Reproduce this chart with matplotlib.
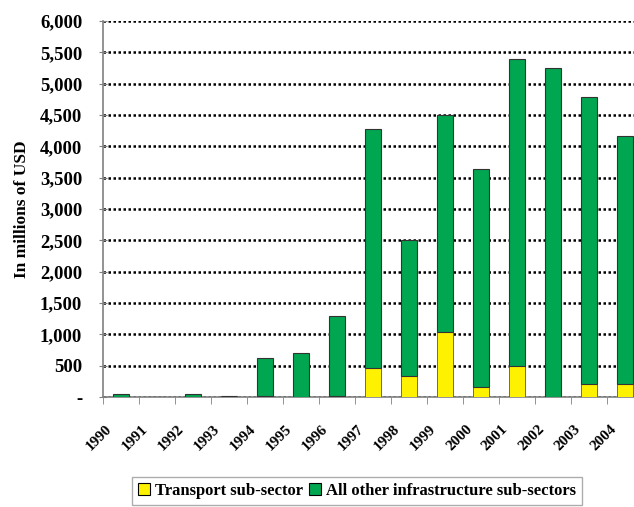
import numpy as np
import matplotlib
matplotlib.use("Agg")
import matplotlib.pyplot as plt
import matplotlib.transforms as mtransforms
from matplotlib.ticker import FuncFormatter, MultipleLocator
from matplotlib.patches import Patch

# Data (millions of USD)
YEARS = ["1990", "1991", "1992", "1993", "1994", "1995", "1996", "1997",
         "1998", "1999", "2000", "2001", "2002", "2003", "2004"]
TRANSPORT = [0, 0, 0, 15, 10, 0, 10, 470, 330, 1040, 160, 490, 0, 210, 210]
OTHER = [40, 0, 40, 5, 620, 700, 1290, 3810, 2170, 3460, 3480, 4910, 5250, 4570, 3950]

GREEN = "#00a650"
YELLOW = "#fff200"
FONT = "Liberation Serif"

plt.rcParams["font.family"] = FONT
plt.rcParams["font.weight"] = "bold"

fig = plt.figure(figsize=(6.34, 5.07), dpi=100)
ax = fig.add_axes([103 / 634, 1 - 397 / 507, 540 / 634, 376 / 507])

x = np.arange(len(YEARS))
transport = np.array(TRANSPORT)
other = np.array(OTHER)

ax.bar(x, transport, width=0.42, color=YELLOW, edgecolor="#555555",
       linewidth=0.6, zorder=3)
ax.bar(x, other, bottom=transport, width=0.42, color=GREEN,
       edgecolor="#333333", linewidth=0.8, zorder=3)

ax.set_xlim(-0.5, len(YEARS) - 0.5)
ax.set_ylim(0, 6000)
ax.yaxis.set_major_locator(MultipleLocator(500))
ax.yaxis.set_major_formatter(FuncFormatter(lambda v, p: "-" if v == 0 else f"{int(v):,}"))
ax.grid(axis="y", color="black", linestyle=(0, (1, 1)), linewidth=1.8, zorder=1)

# year labels: placed by hand below each category, rotated 45 degrees
ax.set_xticks(x)
ax.set_xticklabels([])
ax.tick_params(axis="x", which="major", length=0)
lbl_tr = ax.get_xaxis_transform() + mtransforms.ScaledTranslation(-11 / 100, -30 / 100, fig.dpi_scale_trans)
for i, yr in enumerate(YEARS):
    ax.text(i, 0, yr, transform=lbl_tr, rotation=45, rotation_mode="anchor",
            ha="right", va="center", fontsize=11, fontweight="bold")

ax.set_xticks(np.arange(-0.5, len(YEARS)), minor=True)
ax.tick_params(axis="x", which="minor", length=5, color="#808080", direction="out")
ax.tick_params(axis="y", length=6, direction="inout", color="#808080",
               labelsize=13.5, pad=12)

for side in ("top", "right"):
    ax.spines[side].set_visible(False)
for side in ("left", "bottom"):
    ax.spines[side].set_color("#808080")
    ax.spines[side].set_linewidth(1.2)

ax.set_ylabel("In millions of USD", fontsize=12.5, fontweight="bold", labelpad=7)

handles = [Patch(facecolor=YELLOW, edgecolor="black", linewidth=0.8, label="Transport sub-sector"),
           Patch(facecolor=GREEN, edgecolor="black", linewidth=0.8, label="All other infrastructure sub-sectors")]
leg = fig.legend(handles=handles, loc="upper center", bbox_to_anchor=(357 / 634, 1 - 477 / 507),
                 ncol=2, frameon=True, fancybox=False, edgecolor="#999999",
                 prop={"family": FONT, "weight": "bold", "size": 12},
                 handlelength=0.7, handleheight=0.7, handletextpad=0.3,
                 columnspacing=0.4, borderpad=0.35, borderaxespad=0)

fig.savefig("out.png", dpi=100)
